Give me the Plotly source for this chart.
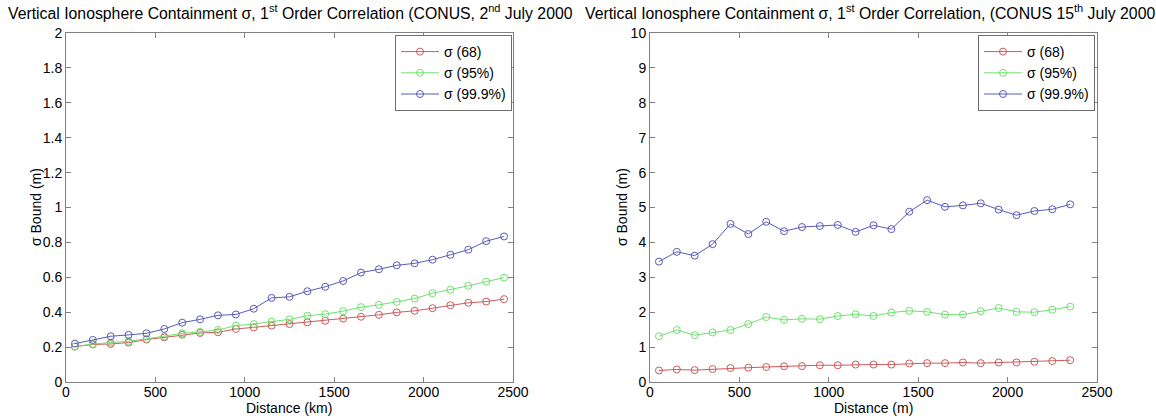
import plotly.graph_objects as go

W, H = 1156, 419

dist_left = [50, 150, 250, 350, 450, 550, 650, 750, 850, 950, 1050, 1150, 1250,
             1350, 1450, 1550, 1650, 1750, 1850, 1950, 2050, 2150, 2250, 2350, 2450]
left_68 = [0.203, 0.215, 0.218, 0.226, 0.243, 0.256, 0.271, 0.281, 0.285, 0.304, 0.313,
           0.323, 0.332, 0.342, 0.351, 0.363, 0.374, 0.385, 0.399, 0.408, 0.423, 0.440,
           0.454, 0.461, 0.475]
left_95 = [0.203, 0.218, 0.226, 0.234, 0.247, 0.262, 0.279, 0.287, 0.298, 0.323, 0.332,
           0.346, 0.359, 0.380, 0.389, 0.406, 0.429, 0.442, 0.459, 0.478, 0.509, 0.528,
           0.551, 0.575, 0.598]
left_999 = [0.220, 0.241, 0.262, 0.270, 0.279, 0.304, 0.340, 0.359, 0.382, 0.387, 0.420,
            0.482, 0.488, 0.520, 0.546, 0.579, 0.627, 0.646, 0.669, 0.680, 0.701, 0.729,
            0.758, 0.807, 0.834]

dist_right = [50, 150, 250, 350, 450, 550, 650, 750, 850, 950, 1050, 1150, 1250,
              1350, 1450, 1550, 1650, 1750, 1850, 1950, 2050, 2150, 2250, 2350]
right_68 = [0.33, 0.36, 0.34, 0.37, 0.40, 0.41, 0.43, 0.45, 0.455, 0.48, 0.48, 0.50,
            0.50, 0.50, 0.53, 0.54, 0.54, 0.56, 0.54, 0.56, 0.56, 0.58, 0.60, 0.625]
right_95 = [1.31, 1.49, 1.34, 1.42, 1.49, 1.66, 1.86, 1.78, 1.81, 1.80, 1.89, 1.94,
            1.89, 1.99, 2.04, 2.01, 1.93, 1.93, 2.03, 2.12, 2.01, 2.00, 2.07, 2.16]
right_999 = [3.45, 3.73, 3.62, 3.95, 4.53, 4.24, 4.59, 4.32, 4.44, 4.47, 4.50, 4.30,
             4.49, 4.38, 4.88, 5.21, 5.02, 5.06, 5.12, 4.94, 4.78, 4.90, 4.95, 5.09]

series_names = ["σ (68)", "σ (95%)", "σ (99.9%)"]
colors = ["rgb(205,90,90)", "rgb(110,225,110)", "rgb(90,90,185)"]

left_ticks_y = [0, 0.2, 0.4, 0.6, 0.8, 1, 1.2, 1.4, 1.6, 1.8, 2]
right_ticks_y = [0, 1, 2, 3, 4, 5, 6, 7, 8, 9, 10]
ticks_x = [0, 500, 1000, 1500, 2000, 2500]

FONT = "Liberation Sans, Arial, Helvetica, sans-serif"

fig = go.Figure()

for name, ys, c in zip(series_names, [left_68, left_95, left_999], colors):
    fig.add_trace(go.Scatter(
        x=dist_left, y=ys, name=name, mode="lines+markers",
        line=dict(color=c, width=1),
        marker=dict(symbol="circle-open", size=7, color=c, line=dict(width=1, color=c)),
        xaxis="x", yaxis="y", legend="legend"))

for name, ys, c in zip(series_names, [right_68, right_95, right_999], colors):
    fig.add_trace(go.Scatter(
        x=dist_right, y=ys, name=name, mode="lines+markers",
        line=dict(color=c, width=1),
        marker=dict(symbol="circle-open", size=7, color=c, line=dict(width=1, color=c)),
        xaxis="x2", yaxis="y2", legend="legend2"))

def px_x(p):
    return p / W

def px_y(p):
    return 1 - p / H

ydom = [px_y(382), px_y(33)]

axis_common = dict(
    showline=True, linecolor="rgb(128,128,128)", linewidth=1, mirror="ticks",
    ticks="inside", ticklen=5, tickcolor="rgb(128,128,128)", tickwidth=1,
    showgrid=False, zeroline=False, automargin=False,
    tickfont=dict(family=FONT, size=14, color="black"),
)

legend_common = dict(
    xanchor="right", yanchor="top", bgcolor="white",
    bordercolor="rgb(110,110,110)", borderwidth=1,
    font=dict(family=FONT, size=14, color="black"), tracegroupgap=0, itemwidth=38,
)

fig.update_layout(
    width=W, height=H,
    margin=dict(l=0, r=0, t=0, b=0, pad=0, autoexpand=False),
    paper_bgcolor="white", plot_bgcolor="white",
    font=dict(family=FONT, size=14, color="black"),
    xaxis=dict(domain=[px_x(66), px_x(513)], range=[0, 2500], tickvals=ticks_x,
               anchor="y", ticklabelstandoff=-3, **axis_common),
    yaxis=dict(domain=ydom, range=[0, 2], tickvals=left_ticks_y,
               ticktext=[f"{v:g}" for v in left_ticks_y], anchor="x", **axis_common),
    xaxis2=dict(domain=[px_x(650), px_x(1097)], range=[0, 2500], tickvals=ticks_x,
                anchor="y2", ticklabelstandoff=-3, **axis_common),
    yaxis2=dict(domain=ydom, range=[0, 10], tickvals=right_ticks_y, anchor="x2",
                **axis_common),
    legend=dict(x=px_x(512), y=px_y(35), **legend_common),
    legend2=dict(x=px_x(1095), y=px_y(35), **legend_common),
    showlegend=True,
)

annots = [
    dict(text="Vertical Ionosphere Containment σ, 1<sup>st</sup> Order Correlation (CONUS, 2<sup>nd</sup> July 2000",
         x=px_x(290), y=px_y(12), size=15.8),
    dict(text="Vertical Ionosphere Containment σ, 1<sup>st</sup> Order Correlation, (CONUS 15<sup>th</sup> July 2000",
         x=px_x(870), y=px_y(12), size=15.8),
    dict(text="Distance (km)", x=px_x(289), y=px_y(408), size=14),
    dict(text="Distance (m)", x=px_x(873), y=px_y(408), size=14),
    dict(text="σ Bound (m)", x=px_x(36), y=px_y(207), size=14, textangle=-90),
    dict(text="σ Bound (m)", x=px_x(622), y=px_y(207), size=14, textangle=-90),
]
for a in annots:
    size = a.pop("size")
    fig.add_annotation(xref="paper", yref="paper", showarrow=False,
                       xanchor="center", yanchor="middle",
                       font=dict(family=FONT, size=size, color="black"), **a)

fig.write_html("out.html")
